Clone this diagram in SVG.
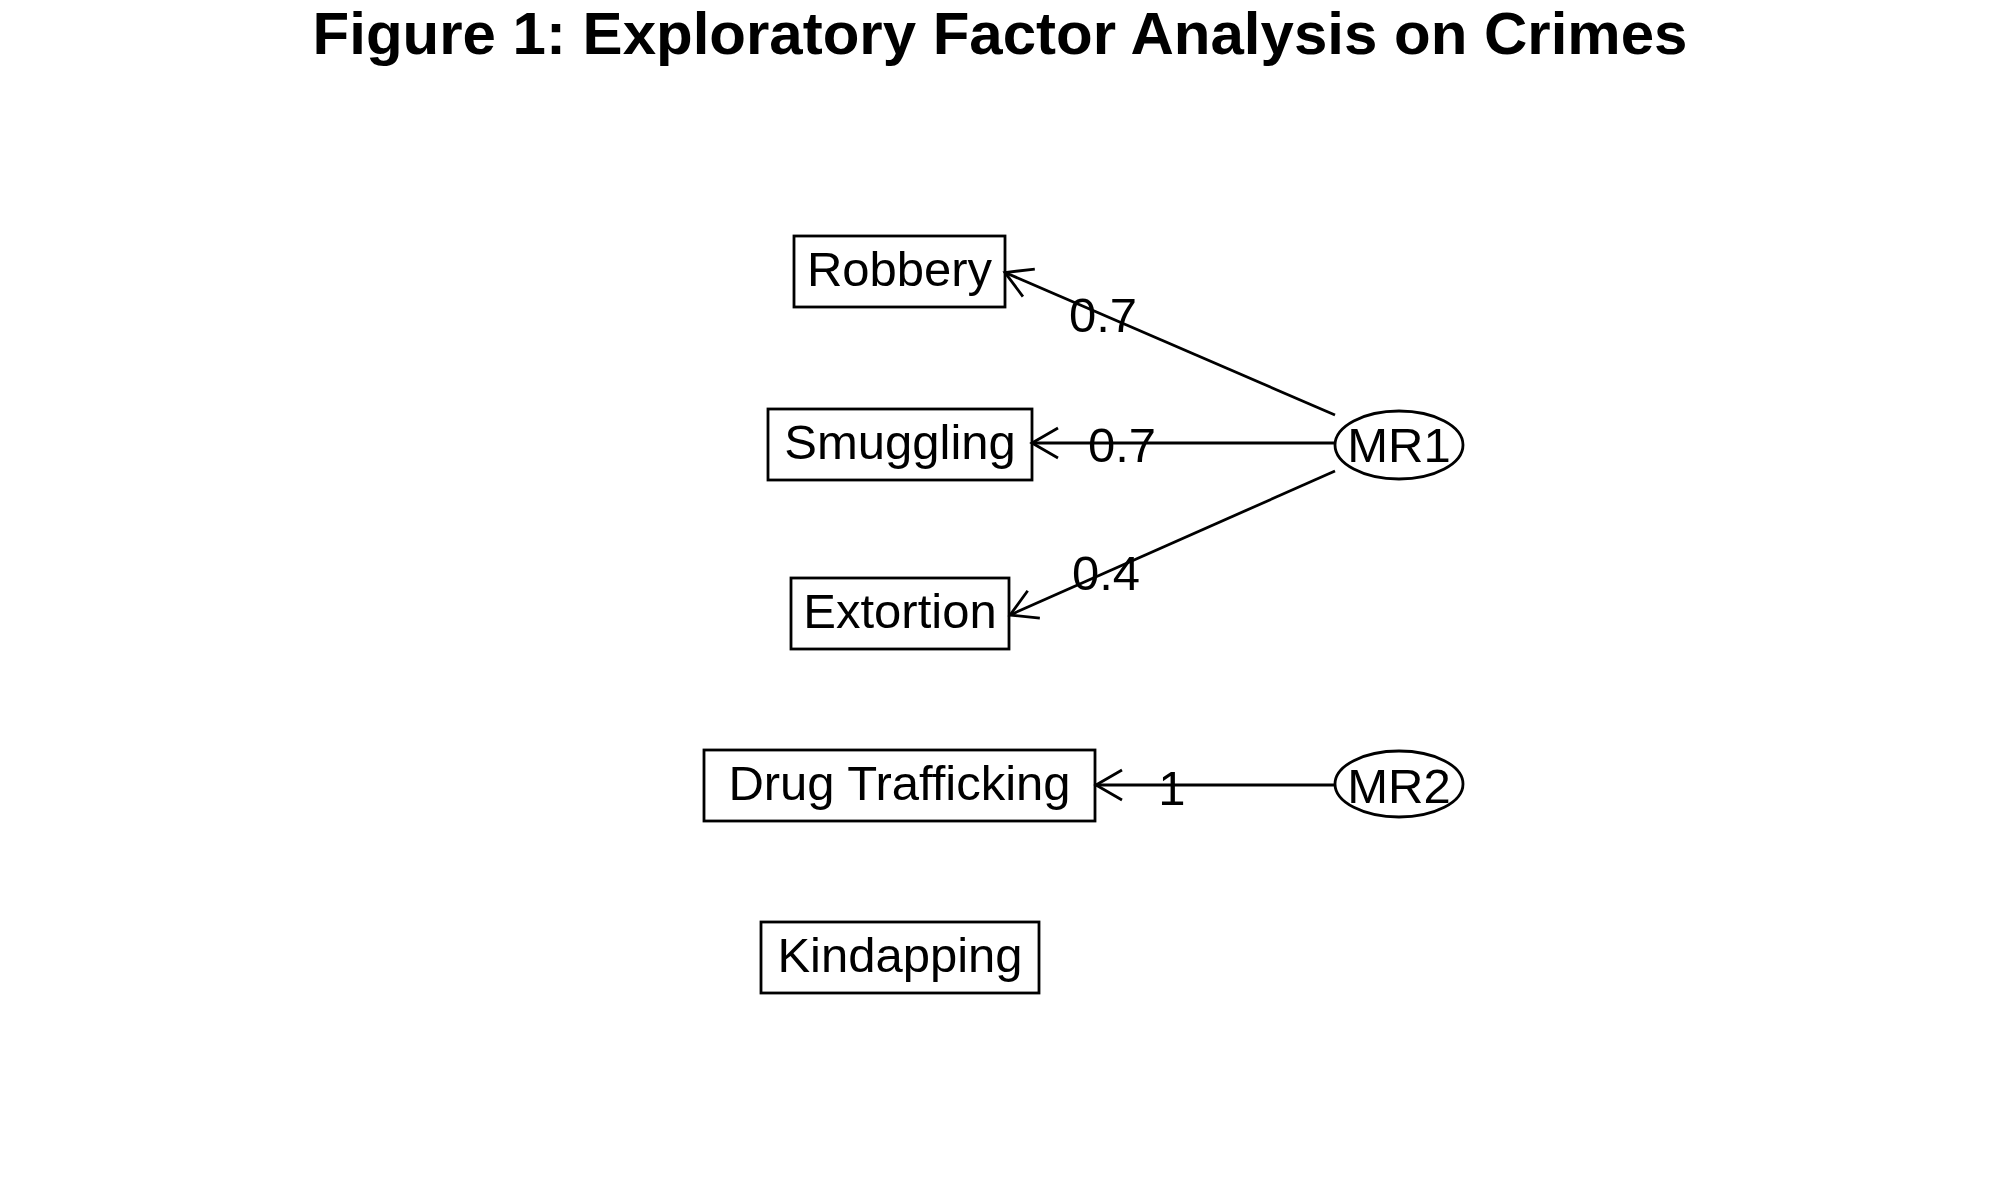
<svg xmlns="http://www.w3.org/2000/svg" width="2000" height="1200" viewBox="0 0 2000 1200">
<style>
text{font-family:"Liberation Sans",Arial,sans-serif;fill:#000}
.title{font-size:60px;font-weight:bold;text-anchor:middle}
.lbl{font-size:49px;text-anchor:middle}
.box{fill:none;stroke:#000;stroke-width:2.8}
.conn{fill:none;stroke:#000;stroke-width:2.8;marker-end:url(#arr)}
</style>
<defs>
<marker id="arr" markerUnits="userSpaceOnUse" markerWidth="40" markerHeight="40" refX="0" refY="0" viewBox="-30 -20 40 40" orient="auto" overflow="visible">
<path d="M-26,-15 L0,0 L-26,15" fill="none" stroke="#000" stroke-width="2.8"/>
</marker>
</defs>
<rect width="2000" height="1200" fill="#fff"/>
<text class="title" x="1000" y="54">Figure 1: Exploratory Factor Analysis on Crimes</text>
<g id="connectors">
<line class="conn" x1="1335" y1="415" x2="1005" y2="272.5"/>
<line class="conn" x1="1335" y1="443" x2="1032" y2="443"/>
<line class="conn" x1="1335" y1="471" x2="1010" y2="615"/>
<line class="conn" x1="1335" y1="785" x2="1096" y2="785"/>
<text class="lbl" x="1103" y="332">0.7</text>
<text class="lbl" x="1122" y="462">0.7</text>
<text class="lbl" x="1106" y="590">0.4</text>
<text class="lbl" x="1172" y="805">1</text>
</g>
<g id="robbery"><rect class="box" x="794" y="236" width="211" height="71"/><text class="lbl" x="899.5" y="286">Robbery</text></g>
<g id="smuggling"><rect class="box" x="768" y="409" width="264" height="71"/><text class="lbl" x="900" y="459">Smuggling</text></g>
<g id="extortion"><rect class="box" x="791" y="578" width="218" height="71"/><text class="lbl" x="900" y="628">Extortion</text></g>
<g id="drug"><rect class="box" x="704" y="750" width="391" height="71"/><text class="lbl" x="899.5" y="800">Drug Trafficking</text></g>
<g id="kindapping"><rect class="box" x="761" y="922" width="278" height="71"/><text class="lbl" x="900" y="972">Kindapping</text></g>
<g id="mr1"><ellipse class="box" cx="1399" cy="445" rx="64" ry="34"/><text class="lbl" x="1399" y="462">MR1</text></g>
<g id="mr2"><ellipse class="box" cx="1399" cy="784" rx="64" ry="33"/><text class="lbl" x="1399" y="803">MR2</text></g>
</svg>
